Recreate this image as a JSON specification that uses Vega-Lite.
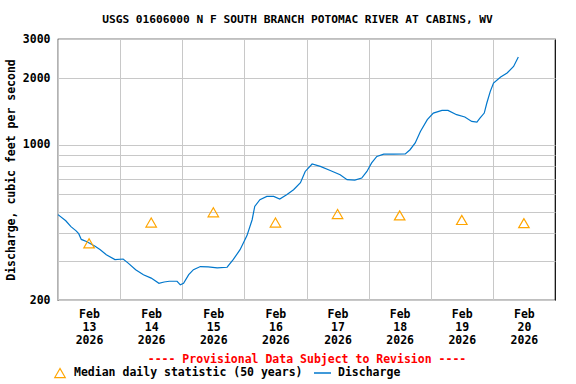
{
  "$schema": "https://vega.github.io/schema/vega-lite/v6.json",
  "width": 497,
  "height": 261,
  "autosize": {"type": "none"},
  "padding": {"left": 58, "top": 39, "right": 21, "bottom": 84},
  "background": "white",
  "title": {
    "text": "USGS 01606000 N F SOUTH BRANCH POTOMAC RIVER AT CABINS, WV",
    "font": "DejaVu Sans Mono",
    "fontSize": 11.2,
    "fontWeight": "bold",
    "color": "black",
    "anchor": "middle",
    "dx": -9,
    "offset": 8
  },
  "config": {
    "view": {"stroke": "black", "strokeWidth": 1.2},
    "axis": {
      "labelFont": "DejaVu Sans Mono",
      "labelFontWeight": "bold",
      "labelFontSize": 11.5,
      "labelColor": "black",
      "titleFont": "DejaVu Sans Mono",
      "titleFontWeight": "bold",
      "titleFontSize": 11.5,
      "titleColor": "black",
      "gridColor": "#c8c8c8",
      "gridWidth": 1,
      "gridOpacity": 1,
      "domain": false,
      "ticks": false
    },
    "legend": {
      "labelFont": "DejaVu Sans Mono",
      "labelFontWeight": "bold",
      "labelFontSize": 11.5,
      "labelColor": "black",
      "labelLimit": 0,
      "padding": 0
    }
  },
  "layer": [
    {
      "data": {
        "values": [
          {"t": "2026-02-13T00:00", "q": 485, "series": "Discharge"},
          {"t": "2026-02-13T03:00", "q": 455, "series": "Discharge"},
          {"t": "2026-02-13T05:00", "q": 428, "series": "Discharge"},
          {"t": "2026-02-13T07:00", "q": 410, "series": "Discharge"},
          {"t": "2026-02-13T08:00", "q": 398, "series": "Discharge"},
          {"t": "2026-02-13T09:00", "q": 375, "series": "Discharge"},
          {"t": "2026-02-13T11:00", "q": 367, "series": "Discharge"},
          {"t": "2026-02-13T14:20", "q": 349, "series": "Discharge"},
          {"t": "2026-02-13T16:20", "q": 337, "series": "Discharge"},
          {"t": "2026-02-13T18:40", "q": 320, "series": "Discharge"},
          {"t": "2026-02-13T22:00", "q": 304, "series": "Discharge"},
          {"t": "2026-02-14T01:10", "q": 306, "series": "Discharge"},
          {"t": "2026-02-14T03:00", "q": 294, "series": "Discharge"},
          {"t": "2026-02-14T06:00", "q": 274, "series": "Discharge"},
          {"t": "2026-02-14T09:00", "q": 260, "series": "Discharge"},
          {"t": "2026-02-14T12:00", "q": 251, "series": "Discharge"},
          {"t": "2026-02-14T15:00", "q": 238, "series": "Discharge"},
          {"t": "2026-02-14T17:00", "q": 241, "series": "Discharge"},
          {"t": "2026-02-14T19:00", "q": 243, "series": "Discharge"},
          {"t": "2026-02-14T22:00", "q": 243, "series": "Discharge"},
          {"t": "2026-02-14T23:15", "q": 234, "series": "Discharge"},
          {"t": "2026-02-15T00:30", "q": 238, "series": "Discharge"},
          {"t": "2026-02-15T02:30", "q": 260, "series": "Discharge"},
          {"t": "2026-02-15T04:20", "q": 274, "series": "Discharge"},
          {"t": "2026-02-15T07:00", "q": 283, "series": "Discharge"},
          {"t": "2026-02-15T10:00", "q": 282, "series": "Discharge"},
          {"t": "2026-02-15T13:30", "q": 279, "series": "Discharge"},
          {"t": "2026-02-15T17:20", "q": 281, "series": "Discharge"},
          {"t": "2026-02-15T19:40", "q": 304, "series": "Discharge"},
          {"t": "2026-02-15T22:20", "q": 337, "series": "Discharge"},
          {"t": "2026-02-16T01:00", "q": 390, "series": "Discharge"},
          {"t": "2026-02-16T03:00", "q": 460, "series": "Discharge"},
          {"t": "2026-02-16T04:00", "q": 528, "series": "Discharge"},
          {"t": "2026-02-16T06:00", "q": 566, "series": "Discharge"},
          {"t": "2026-02-16T08:40", "q": 586, "series": "Discharge"},
          {"t": "2026-02-16T11:20", "q": 586, "series": "Discharge"},
          {"t": "2026-02-16T13:40", "q": 570, "series": "Discharge"},
          {"t": "2026-02-16T16:20", "q": 596, "series": "Discharge"},
          {"t": "2026-02-16T19:00", "q": 628, "series": "Discharge"},
          {"t": "2026-02-16T21:40", "q": 675, "series": "Discharge"},
          {"t": "2026-02-16T23:30", "q": 759, "series": "Discharge"},
          {"t": "2026-02-17T02:10", "q": 820, "series": "Discharge"},
          {"t": "2026-02-17T05:20", "q": 800, "series": "Discharge"},
          {"t": "2026-02-17T09:10", "q": 767, "series": "Discharge"},
          {"t": "2026-02-17T13:00", "q": 734, "series": "Discharge"},
          {"t": "2026-02-17T15:40", "q": 697, "series": "Discharge"},
          {"t": "2026-02-17T18:40", "q": 694, "series": "Discharge"},
          {"t": "2026-02-17T21:20", "q": 709, "series": "Discharge"},
          {"t": "2026-02-17T23:20", "q": 759, "series": "Discharge"},
          {"t": "2026-02-18T01:10", "q": 829, "series": "Discharge"},
          {"t": "2026-02-18T03:10", "q": 887, "series": "Discharge"},
          {"t": "2026-02-18T05:50", "q": 909, "series": "Discharge"},
          {"t": "2026-02-18T09:40", "q": 909, "series": "Discharge"},
          {"t": "2026-02-18T14:10", "q": 910, "series": "Discharge"},
          {"t": "2026-02-18T16:00", "q": 951, "series": "Discharge"},
          {"t": "2026-02-18T18:00", "q": 1020, "series": "Discharge"},
          {"t": "2026-02-18T20:00", "q": 1150, "series": "Discharge"},
          {"t": "2026-02-18T22:40", "q": 1299, "series": "Discharge"},
          {"t": "2026-02-19T01:00", "q": 1391, "series": "Discharge"},
          {"t": "2026-02-19T04:20", "q": 1430, "series": "Discharge"},
          {"t": "2026-02-19T06:40", "q": 1430, "series": "Discharge"},
          {"t": "2026-02-19T10:00", "q": 1368, "series": "Discharge"},
          {"t": "2026-02-19T13:10", "q": 1336, "series": "Discharge"},
          {"t": "2026-02-19T15:50", "q": 1276, "series": "Discharge"},
          {"t": "2026-02-19T17:50", "q": 1268, "series": "Discharge"},
          {"t": "2026-02-19T19:00", "q": 1321, "series": "Discharge"},
          {"t": "2026-02-19T20:40", "q": 1391, "series": "Discharge"},
          {"t": "2026-02-19T21:40", "q": 1544, "series": "Discharge"},
          {"t": "2026-02-19T23:00", "q": 1742, "series": "Discharge"},
          {"t": "2026-02-20T00:15", "q": 1900, "series": "Discharge"},
          {"t": "2026-02-20T03:00", "q": 2023, "series": "Discharge"},
          {"t": "2026-02-20T05:30", "q": 2108, "series": "Discharge"},
          {"t": "2026-02-20T08:00", "q": 2257, "series": "Discharge"},
          {"t": "2026-02-20T09:50", "q": 2490, "series": "Discharge"}
        ]
      },
      "mark": {"type": "line", "strokeWidth": 1.2, "interpolate": "linear"},
      "encoding": {
        "x": {
          "field": "t",
          "type": "temporal",
          "scale": {
            "domain": [
              {"year": 2026, "month": "feb", "date": 13},
              {"year": 2026, "month": "feb", "date": 21}
            ]
          },
          "axis": {
            "values": [
              {"year": 2026, "month": "feb", "date": 13},
              {"year": 2026, "month": "feb", "date": 14},
              {"year": 2026, "month": "feb", "date": 15},
              {"year": 2026, "month": "feb", "date": 16},
              {"year": 2026, "month": "feb", "date": 17},
              {"year": 2026, "month": "feb", "date": 18},
              {"year": 2026, "month": "feb", "date": 19},
              {"year": 2026, "month": "feb", "date": 20}
            ],
            "labelExpr": "[timeFormat(datum.value, '%b'), timeFormat(datum.value, '%d'), timeFormat(datum.value, '%Y')]",
            "labelOffset": 31,
            "labelAlign": "center",
            "labelLineHeight": 13,
            "labelPadding": 8,
            "labelFlush": false,
            "labelOverlap": false,
            "labelBound": false,
            "title": "---- Provisional Data Subject to Revision ----",
            "titleColor": "#ff0000",
            "titlePadding": 8
          }
        },
        "y": {
          "field": "q",
          "type": "quantitative",
          "scale": {"type": "log", "domain": [200, 3000], "nice": false},
          "axis": {
            "values": [200, 300, 400, 500, 600, 700, 800, 900, 1000, 2000, 3000],
            "labelExpr": "indexof([200, 1000, 2000, 3000], datum.value) >= 0 ? format(datum.value, 'd') : ''",
            "labelPadding": 8,
            "title": "Discharge, cubic feet per second",
            "titlePadding": 6
          }
        },
        "color": {
          "field": "series",
          "type": "nominal",
          "scale": {"domain": ["Discharge"], "range": ["#0077cc"]},
          "legend": {
            "title": null,
            "orient": "none",
            "legendX": 255,
            "legendY": 324.5,
            "symbolType": "stroke",
            "symbolSize": 289,
            "symbolStrokeWidth": 1.5,
            "labelOffset": 6
          }
        }
      }
    },
    {
      "data": {
        "values": [
          {"t": "2026-02-13T12:00", "q": 360, "series": "Median daily statistic (50 years)"},
          {"t": "2026-02-14T12:00", "q": 447, "series": "Median daily statistic (50 years)"},
          {"t": "2026-02-15T12:00", "q": 497, "series": "Median daily statistic (50 years)"},
          {"t": "2026-02-16T12:00", "q": 447, "series": "Median daily statistic (50 years)"},
          {"t": "2026-02-17T12:00", "q": 488, "series": "Median daily statistic (50 years)"},
          {"t": "2026-02-18T12:00", "q": 481, "series": "Median daily statistic (50 years)"},
          {"t": "2026-02-19T12:00", "q": 459, "series": "Median daily statistic (50 years)"},
          {"t": "2026-02-20T12:00", "q": 444, "series": "Median daily statistic (50 years)"}
        ]
      },
      "mark": {"type": "point", "filled": false, "color": "#ffa500", "size": 110, "strokeWidth": 1.2, "opacity": 1},
      "encoding": {
        "x": {"field": "t", "type": "temporal"},
        "y": {"field": "q", "type": "quantitative"},
        "shape": {
          "field": "series",
          "type": "nominal",
          "scale": {"domain": ["Median daily statistic (50 years)"], "range": ["triangle-up"]},
          "legend": {
            "title": null,
            "orient": "none",
            "legendX": -4,
            "legendY": 328,
            "symbolSize": 110,
            "symbolStrokeColor": "#ffa500",
            "symbolFillColor": "transparent",
            "symbolStrokeWidth": 1.2,
            "labelOffset": 8
          }
        }
      }
    }
  ]
}
